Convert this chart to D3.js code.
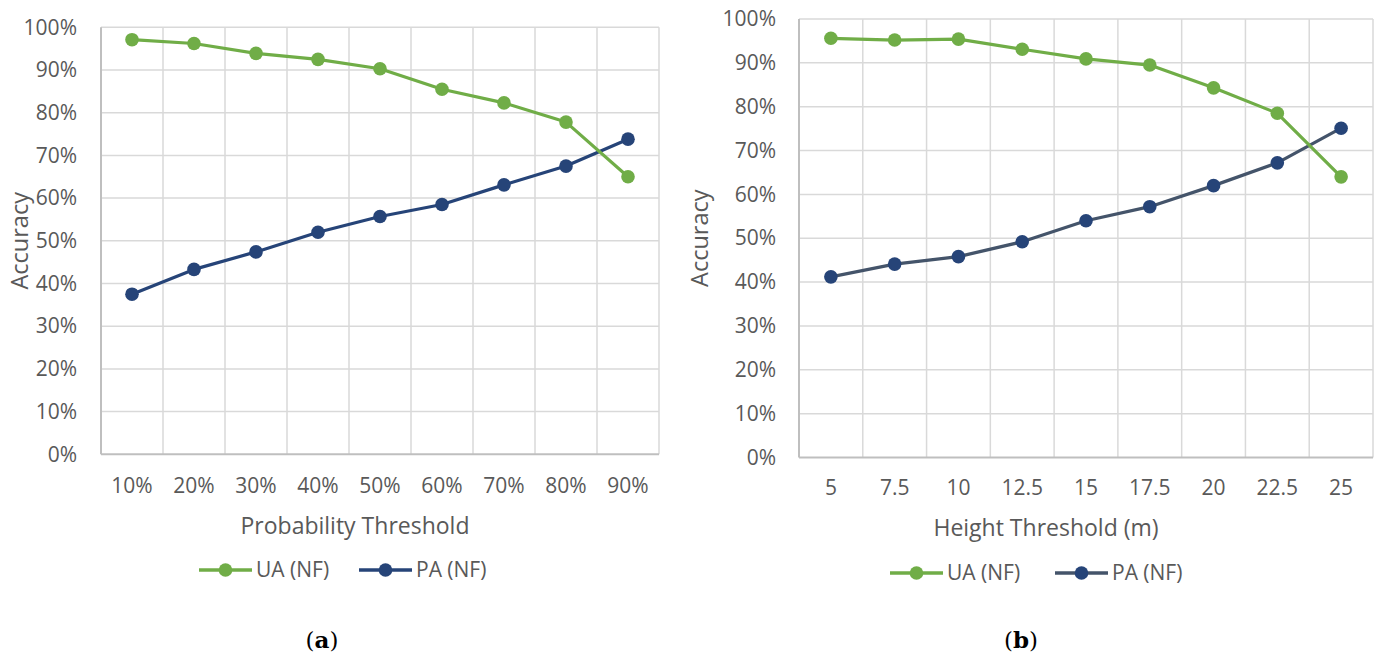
<!DOCTYPE html>
<html>
<head>
<meta charset="utf-8">
<script src="https://cdn.jsdelivr.net/npm/d3@7"></script>
<style>
  html, body { margin: 0; padding: 0; background: #ffffff; }
  svg { display: block; }
</style>
</head>
<body>
<svg id="chart" width="1379" height="653"></svg>
<script>
// Accuracy of the NF class under two thresholding schemes
const probLabels = ["10%", "20%", "30%", "40%", "50%", "60%", "70%", "80%", "90%"];
const probUA = [97.1, 96.2, 93.9, 92.5, 90.3, 85.5, 82.3, 77.8, 65.0];
const probPA = [37.5, 43.3, 47.4, 52.0, 55.7, 58.5, 63.1, 67.5, 73.8];

const heightLabels = ["5", "7.5", "10", "12.5", "15", "17.5", "20", "22.5", "25"];
const heightUA = [95.6, 95.2, 95.4, 93.1, 90.9, 89.5, 84.3, 78.5, 64.0];
const heightPA = [41.2, 44.1, 45.8, 49.2, 54.0, 57.2, 62.0, 67.2, 75.1];

const yTicks = [0, 10, 20, 30, 40, 50, 60, 70, 80, 90, 100];
const seriesNames = ["UA (NF)", "PA (NF)"];

const GREEN = "#70ad47";
const NAVY = "#264478";
const SLATE = "#44546a";
const TEXT = "#595959";
const FONT = "'Open Sans', 'Noto Sans', sans-serif";

const svg = d3.select("#chart");

function drawPanel(opt) {
  const g = svg.append("g");
  const x = d3.scaleBand().domain(opt.labels).range([opt.left, opt.right]).paddingInner(0).paddingOuter(0);
  const y = d3.scaleLinear().domain([0, 100]).range([opt.bottom, opt.top]);

  // horizontal gridlines
  g.append("g").selectAll("line").data(yTicks.filter(d => d > 0)).join("line")
    .attr("x1", opt.left).attr("x2", opt.right)
    .attr("y1", d => y(d)).attr("y2", d => y(d))
    .attr("stroke", "#d9d9d9").attr("stroke-width", 1.5);

  // vertical gridlines at category boundaries
  const bounds = opt.labels.map(l => x(l) + x.bandwidth());
  g.append("g").selectAll("line").data(bounds).join("line")
    .attr("x1", d => d).attr("x2", d => d)
    .attr("y1", opt.top).attr("y2", opt.bottom)
    .attr("stroke", "#d9d9d9").attr("stroke-width", 1.5);

  // axis lines
  g.append("line").attr("x1", opt.left).attr("x2", opt.left)
    .attr("y1", opt.top).attr("y2", opt.bottom)
    .attr("stroke", "#bfbfbf").attr("stroke-width", 2);
  g.append("line").attr("x1", opt.left).attr("x2", opt.right)
    .attr("y1", opt.bottom).attr("y2", opt.bottom)
    .attr("stroke", "#bfbfbf").attr("stroke-width", 2);

  // y tick labels
  const yAxis = d3.axisLeft(y).tickValues(yTicks).tickFormat(d => d + "%").tickSize(0).tickPadding(0);
  const ya = g.append("g").attr("transform", `translate(${opt.yLabelX},0)`).call(yAxis);
  ya.select(".domain").remove();
  ya.selectAll("text").attr("fill", TEXT).attr("font-family", FONT).attr("font-size", 21);

  // x tick labels
  const xAxis = d3.axisBottom(x).tickSize(0).tickPadding(0);
  const xa = g.append("g").attr("transform", `translate(0,${opt.xLabelY})`).call(xAxis);
  xa.select(".domain").remove();
  xa.selectAll("text").attr("fill", TEXT).attr("font-family", FONT).attr("font-size", 21)
    .attr("dy", "0.35em");

  // axis titles
  g.append("text").attr("x", opt.titleX).attr("y", opt.titleY)
    .attr("text-anchor", "middle").attr("dy", "0.35em")
    .attr("fill", TEXT).attr("font-family", FONT).attr("font-size", 23)
    .text(opt.xTitle);
  g.append("text").attr("transform", `translate(${opt.yTitleX},${(opt.top + opt.bottom) / 2}) rotate(-90)`)
    .attr("text-anchor", "middle").attr("dy", "0.35em")
    .attr("fill", TEXT).attr("font-family", FONT).attr("font-size", 23.5)
    .text("Accuracy");

  const cx = (d, i) => x(opt.labels[i]) + x.bandwidth() / 2;
  const line = d3.line().x(cx).y(d => y(d));

  const series = [
    { name: seriesNames[0], values: opt.ua, line: GREEN, marker: GREEN },
    { name: seriesNames[1], values: opt.pa, line: opt.paLine, marker: NAVY }
  ];

  // UA is drawn after PA so it sits on top where they cross
  [series[1], series[0]].forEach(s => {
    g.append("path").datum(s.values).attr("d", line)
      .attr("fill", "none").attr("stroke", s.line).attr("stroke-width", 3.2)
      .attr("stroke-linejoin", "round");
    g.append("g").selectAll("circle").data(s.values).join("circle")
      .attr("cx", cx).attr("cy", d => y(d)).attr("r", 6.8).attr("fill", s.marker);
  });

  // legend
  series.forEach((s, i) => {
    const lx = opt.legendX[i];
    const lg = g.append("g").attr("transform", `translate(${lx},${opt.legendY})`);
    lg.append("line").attr("x1", 0).attr("x2", 53).attr("y1", 0).attr("y2", 0)
      .attr("stroke", s.line).attr("stroke-width", 3.6);
    lg.append("circle").attr("cx", 26.5).attr("cy", 0).attr("r", 6.8).attr("fill", s.marker);
    lg.append("text").attr("x", 57).attr("y", 0).attr("dy", "0.35em")
      .attr("fill", TEXT).attr("font-family", FONT).attr("font-size", 21).text(s.name);
  });

  // panel caption
  const cap = g.append("text").attr("x", opt.captionX).attr("y", 640).attr("dy", "0.35em")
    .attr("text-anchor", "middle").attr("font-family", "'DejaVu Serif', 'Liberation Serif', serif")
    .attr("font-size", 23).attr("fill", "#000");
  cap.append("tspan").text("(");
  cap.append("tspan").attr("font-weight", "bold").text(opt.caption);
  cap.append("tspan").text(")");
}

drawPanel({
  labels: probLabels, ua: probUA, pa: probPA, paLine: NAVY,
  left: 101, right: 659, top: 27.3, bottom: 454.3,
  yLabelX: 77, xLabelY: 486, titleX: 355, titleY: 526, yTitleX: 20,
  xTitle: "Probability Threshold",
  legendX: [199, 359], legendY: 570,
  caption: "a", captionX: 322
});

drawPanel({
  labels: heightLabels, ua: heightUA, pa: heightPA, paLine: SLATE,
  left: 799, right: 1373, top: 19, bottom: 457.5,
  yLabelX: 776, xLabelY: 488, titleX: 1046, titleY: 528, yTitleX: 700,
  xTitle: "Height Threshold (m)",
  legendX: [890, 1055], legendY: 573,
  caption: "b", captionX: 1021
});
</script>
</body>
</html>
